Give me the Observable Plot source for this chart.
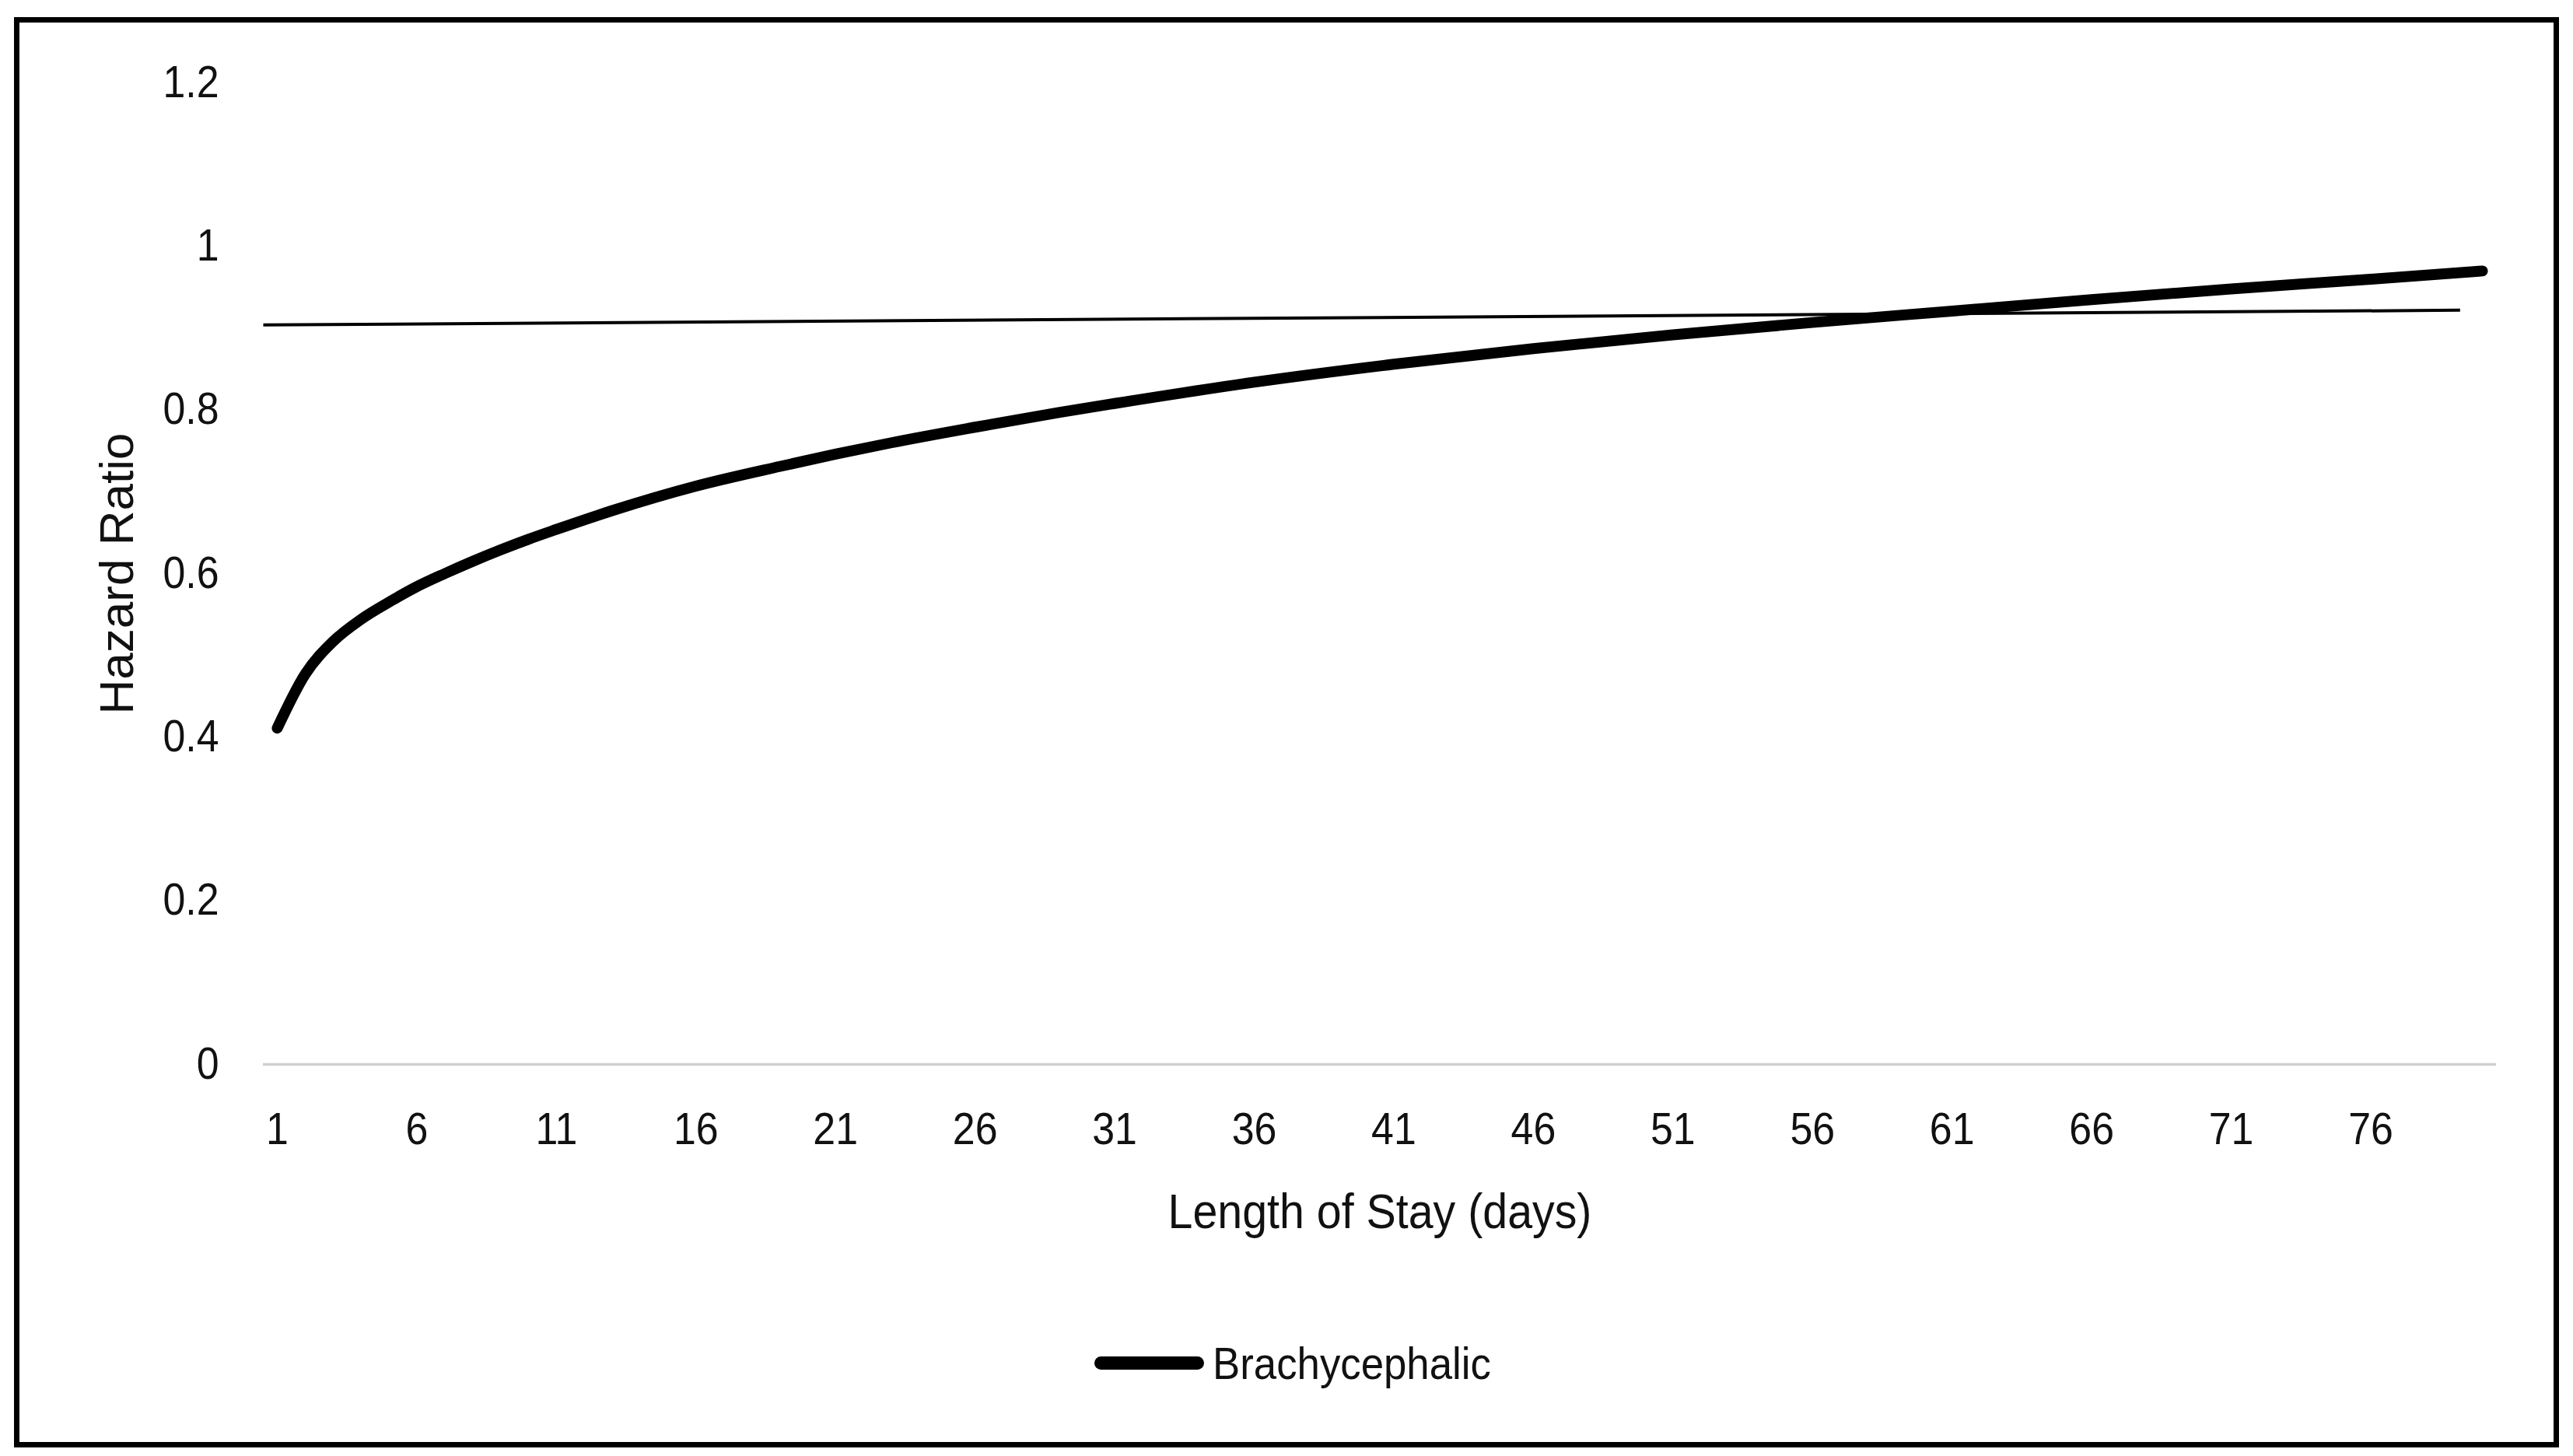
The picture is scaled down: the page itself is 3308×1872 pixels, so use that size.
<!DOCTYPE html>
<html>
<head>
<meta charset="utf-8">
<script src="https://cdn.jsdelivr.net/npm/d3@7"></script>
<script src="https://cdn.jsdelivr.net/npm/@observablehq/plot@0.6"></script>
<style>
  html, body { margin: 0; padding: 0; background: #fff; }
  #wrap { position: relative; width: 3308px; height: 1872px; overflow: hidden; background: #fff; }
  #frame { position: absolute; left: 18px; top: 22px; width: 3272px; height: 1839px; border: 7px solid #000; box-sizing: border-box; pointer-events: none; }
  #chart svg { display: block; }
  #legend { display: flex; align-items: center; margin-left: 1407px; margin-top: 82px; height: 60px;
            font-family: 'Liberation Sans', Arial, sans-serif; font-size: 58px; color: #111; }
  #legend .sw { display: inline-block; width: 141px; height: 17px; border-radius: 8.5px; background: #000; margin-right: 11px; }
  #legend .lab { display: inline-block; transform: scaleX(0.91); transform-origin: 0 50%; white-space: nowrap; }
</style>
</head>
<body>
<div id="wrap">
  <div id="chart"></div>
  <div id="legend"><span class="sw"></span><span class="lab" id="legendLabel"></span></div>
  <div id="frame"></div>
</div>
<script>
// Length of stay (days) and hazard ratio
const days   = [1, 2, 3, 4, 5, 6, 7, 8, 9, 10, 11, 13, 16, 19, 21, 23, 26, 29, 31, 36, 41, 46, 51, 56, 61, 66, 71, 76, 80];
const hazard = [0.411, 0.477, 0.517, 0.544, 0.565, 0.584, 0.600, 0.615, 0.629, 0.642, 0.654, 0.677, 0.707, 0.731, 0.746, 0.760, 0.779, 0.797, 0.808, 0.834, 0.856, 0.875, 0.892, 0.907, 0.921, 0.935, 0.948, 0.960, 0.970];

// thin reference line
const refDays   = [0.5, 79.2];
const refHazard = [0.904, 0.922];

const xTicks = [1, 6, 11, 16, 21, 26, 31, 36, 41, 46, 51, 56, 61, 66, 71, 76];
const yTicks = [0, 0.2, 0.4, 0.6, 0.8, 1, 1.2];
const seriesName = "Brachycephalic";
const xTitle = "Length of Stay (days)";
const yTitle = "Hazard Ratio";

const curveData = days.map((d, i) => ({day: d, hr: hazard[i]}));
const refData = refDays.map((d, i) => ({day: d, hr: refHazard[i]}));

const font = "'Liberation Sans', Arial, sans-serif";

const chart = Plot.plot({
  width: 3308,
  height: 1640,
  marginLeft: 338,
  marginRight: 99,
  marginTop: 106,
  marginBottom: 272,
  style: {fontFamily: font, fontSize: "57px", color: "#111", background: "transparent"},
  x: {type: "linear", domain: [0.5, 80.5]},
  y: {domain: [0, 1.2]},
  marks: [
    Plot.ruleY([0], {stroke: "#d0d0d0", strokeWidth: 3.5}),
    Plot.axisX(xTicks, {tickSize: 0, tickPadding: 62, label: null, fontSize: 57, tickFormat: d => String(d)}),
    Plot.axisY(yTicks, {tickSize: 0, tickPadding: 57, label: null, fontSize: 57, tickFormat: d => String(d)}),
    Plot.line(refData, {x: "day", y: "hr", stroke: "#000", strokeWidth: 4, strokeLinecap: "butt"}),
    Plot.line(curveData, {x: "day", y: "hr", stroke: "#000", strokeWidth: 14, strokeLinecap: "round", curve: "monotone-x"}),
    Plot.text([xTitle], {frameAnchor: "bottom", dy: 190, lineAnchor: "middle", textAnchor: "middle", fontSize: 63, fill: "#111"}),
    Plot.text([yTitle], {frameAnchor: "left", dx: -187, rotate: -90, lineAnchor: "middle", textAnchor: "middle",
                         fontSize: 62, fill: "#111", className: "ytitle"})
  ]
});

// Condense horizontal text slightly to match the narrow face of the original
const sx = 0.91;
d3.select(chart).selectAll("text").each(function () {
  if (this.closest(".ytitle")) return;
  const t = this.getAttribute("transform");
  if (t) {
    this.setAttribute("transform", t + ` scale(${sx},1)`);
  } else {
    const x = +(this.getAttribute("x") || 0);
    this.setAttribute("transform", `translate(${x},0) scale(${sx},1) translate(${-x},0)`);
  }
});

document.getElementById("chart").appendChild(chart);
document.getElementById("legendLabel").textContent = seriesName;
</script>
</body>
</html>
